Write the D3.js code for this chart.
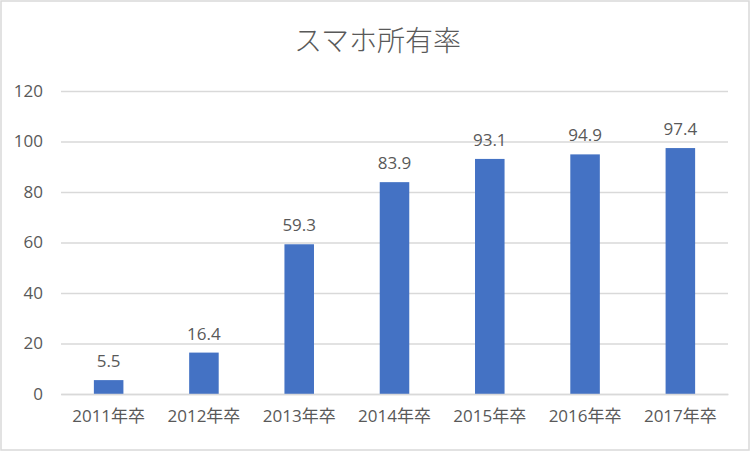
<!DOCTYPE html>
<html>
<head>
<meta charset="utf-8">
<script src="https://cdn.jsdelivr.net/npm/d3@7"></script>
<style>
  body { margin: 0; background: #fff; }
  text { font-family: 'Open Sans', 'Noto Sans CJK JP', sans-serif; fill: #595959; }
  .title { font-family: 'Noto Sans CJK JP', sans-serif; font-weight: 300; }
</style>
</head>
<body>
<svg id="chart"></svg>
<script>
const width = 751
const height = 452
const margin = { top: 91, right: 23, bottom: 58, left: 61 }

// data
const title = 'スマホ所有率'
const categories = ['2011年卒', '2012年卒', '2013年卒', '2014年卒', '2015年卒', '2016年卒', '2017年卒']
const values = [5.5, 16.4, 59.3, 83.9, 93.1, 94.9, 97.4]
const yTicks = [0, 20, 40, 60, 80, 100, 120]

const barColor = '#4472c4'
const gridColor = '#d9d9d9'
const labelSize = '17px'

let svg = d3.select('#chart')
    .attr('width', width)
    .attr('height', height)

// chart area border
svg.append('rect')
    .attr('x', 1)
    .attr('y', 1)
    .attr('width', width - 3)
    .attr('height', height - 3)
    .attr('fill', '#fff')
    .attr('stroke', gridColor)
    .attr('stroke-width', 1.5)

const x = d3.scaleBand()
    .domain(categories)
    .range([margin.left, width - margin.right])
    .paddingInner(0.69)
    .paddingOuter(0.345)

const y = d3.scaleLinear()
    .domain([0, 120])
    .range([height - margin.bottom, margin.top])

// gridlines + y labels
const yAxis = d3.axisLeft(y)
    .tickValues(yTicks)
    .tickSize(-(width - margin.left - margin.right))
    .tickPadding(18)

svg.append('g')
    .attr('transform', `translate(${margin.left}, 0)`)
    .call(yAxis)
    .call(g => g.select('.domain').remove())
    .call(g => g.selectAll('.tick line').attr('stroke', gridColor).attr('stroke-width', 1.3))
    .call(g => g.selectAll('.tick text')
        .style('font-size', labelSize)
        .attr('fill', '#595959'))

// bars
svg.append('g')
    .selectAll('rect')
    .data(values)
    .join('rect')
    .attr('x', (d, i) => x(categories[i]))
    .attr('y', d => y(d))
    .attr('width', x.bandwidth())
    .attr('height', d => y(0) - y(d))
    .attr('fill', barColor)

// x axis
const xAxis = d3.axisBottom(x)
    .tickSize(0)
    .tickPadding(16)

svg.append('g')
    .attr('transform', `translate(0, ${y(0)})`)
    .call(xAxis)
    .call(g => g.select('.domain').attr('stroke', gridColor).attr('stroke-width', 1.3))
    .call(g => g.selectAll('.tick text')
        .style('font-size', labelSize)
        .attr('fill', '#595959'))

// data labels
svg.append('g')
    .selectAll('text')
    .data(values)
    .join('text')
    .attr('x', (d, i) => x(categories[i]) + x.bandwidth() / 2)
    .attr('y', d => y(d) - 13)
    .attr('text-anchor', 'middle')
    .style('font-size', labelSize)
    .text(d => d.toFixed(1))

// title
svg.append('text')
    .attr('class', 'title')
    .attr('x', width / 2 + 2)
    .attr('y', 51)
    .attr('text-anchor', 'middle')
    .style('font-size', '28px')
    .text(title)
</script>
</body>
</html>
